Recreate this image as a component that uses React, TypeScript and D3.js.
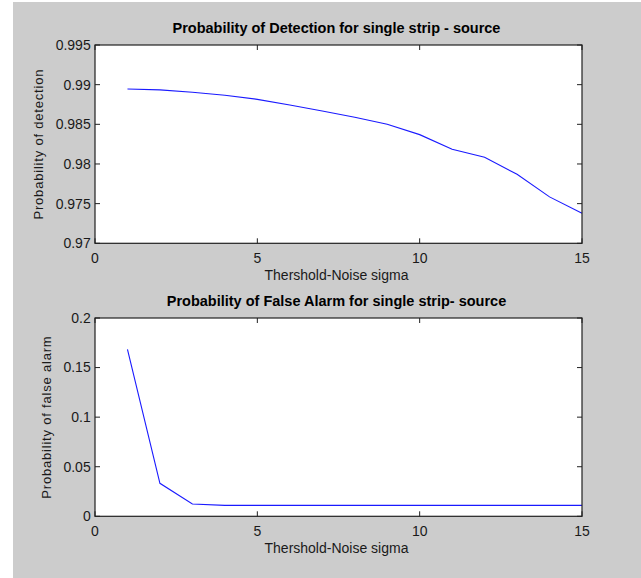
import React, { useEffect, useRef } from 'react'
import * as d3 from 'd3'

// sigma threshold steps
const sigma = [1, 2, 3, 4, 5, 6, 7, 8, 9, 10, 11, 12, 13, 14, 15]

// probability of detection
const detection = [
  0.98945, 0.98934, 0.98905, 0.98866, 0.98815, 0.98744, 0.98668, 0.98590,
  0.98502, 0.98370, 0.98185, 0.98084, 0.97870, 0.97585, 0.97378,
]

// probability of false alarm, bottom panel
const falseAlarm = [
  0.1684, 0.0333, 0.0124, 0.0110, 0.0110, 0.0110, 0.0110, 0.0110,
  0.0110, 0.0110, 0.0110, 0.0110, 0.0110, 0.0110, 0.0110,
]

const xTicks = [0, 5, 10, 15]
const detTicks = [0.97, 0.975, 0.98, 0.985, 0.99, 0.995]
const faTicks = [0, 0.05, 0.1, 0.15, 0.2]

const titles = [
  'Probability of Detection for single strip - source',
  'Probability of False Alarm for single strip- source',
]
const yLabels = ['Probability of detection', 'Probability of false alarm']
const xLabel = 'Thershold-Noise sigma'

const FONT = '"Liberation Sans", Arial, sans-serif'

function App() {
  const svgRef = useRef<SVGSVGElement>(null)

  useEffect(() => {
    const W = 641
    const H = 578
    const svg = d3.select(svgRef.current)
      .attr('width', W)
      .attr('height', H)
    svg.selectAll('*').remove()

    // figure background
    svg.append('rect')
      .attr('x', 13).attr('y', 2)
      .attr('width', W - 13).attr('height', H - 2)
      .attr('fill', '#cccccc')

    const left = 95
    const right = 582
    const panels = [
      { top: 45, values: detection, domain: [0.97, 0.995], ticks: detTicks },
      { top: 318, values: falseAlarm, domain: [0, 0.2], ticks: faTicks },
    ]
    const ph = 198.3
    const tickLen = 5

    panels.forEach((p, i) => {
      const bottom = p.top + ph
      const x = d3.scaleLinear().domain([0, 15]).range([left, right])
      const y = d3.scaleLinear().domain(p.domain).range([bottom, p.top])
      const g = svg.append('g')

      g.append('rect')
        .attr('x', left).attr('y', p.top)
        .attr('width', right - left).attr('height', ph)
        .attr('fill', '#ffffff')

      // line
      const line = d3.line<number>()
        .x((d, k) => x(sigma[k]))
        .y(d => y(d))
      g.append('path')
        .datum(p.values)
        .attr('d', line)
        .attr('fill', 'none')
        .attr('stroke', '#1a1aff')
        .attr('stroke-width', 1.1)

      // box
      g.append('rect')
        .attr('x', left).attr('y', p.top)
        .attr('width', right - left).attr('height', ph)
        .attr('fill', 'none')
        .attr('stroke', '#202020')
        .attr('stroke-width', 1.2)

      // x ticks (inward, top and bottom)
      xTicks.forEach(t => {
        const xx = x(t)
        g.append('line')
          .attr('x1', xx).attr('x2', xx)
          .attr('y1', bottom).attr('y2', bottom - tickLen)
          .attr('stroke', '#202020')
        g.append('line')
          .attr('x1', xx).attr('x2', xx)
          .attr('y1', p.top).attr('y2', p.top + tickLen)
          .attr('stroke', '#202020')
        g.append('text')
          .attr('x', xx).attr('y', bottom + 19.5)
          .attr('text-anchor', 'middle')
          .attr('font-family', FONT)
          .attr('font-size', 14)
          .attr('fill', '#1a1a1a')
          .text(String(t))
      })

      // y ticks
      const labels: SVGTextElement[] = []
      p.ticks.forEach(t => {
        const yy = y(t)
        g.append('line')
          .attr('x1', left).attr('x2', left + tickLen)
          .attr('y1', yy).attr('y2', yy)
          .attr('stroke', '#202020')
        g.append('line')
          .attr('x1', right).attr('x2', right - tickLen)
          .attr('y1', yy).attr('y2', yy)
          .attr('stroke', '#202020')
        const tx = g.append('text')
          .attr('x', left - 4.3).attr('y', yy)
          .attr('dy', '0.35em')
          .attr('text-anchor', 'end')
          .attr('font-family', FONT)
          .attr('font-size', 14)
          .attr('fill', '#1a1a1a')
          .text(String(t))
        labels.push(tx.node() as SVGTextElement)
      })
      const minX = d3.min(labels, n => n.getBBox().x) ?? left - 40

      // title
      g.append('text')
        .attr('x', (left + right) / 2 - 2).attr('y', p.top - 12)
        .attr('text-anchor', 'middle')
        .attr('font-family', FONT)
        .attr('font-size', 14.5)
        .attr('font-weight', 'bold')
        .attr('fill', '#000')
        .text(titles[i])

      // x label
      g.append('text')
        .attr('x', (left + right) / 2 - 2).attr('y', bottom + 36.5)
        .attr('text-anchor', 'middle')
        .attr('font-family', FONT)
        .attr('font-size', 14)
        .attr('fill', '#1a1a1a')
        .text(xLabel)

      // y label
      const ly = p.top + ph / 2
      const lx = minX - 12.7
      g.append('text')
        .attr('transform', `translate(${lx},${ly}) rotate(-90)`)
        .attr('text-anchor', 'middle')
        .attr('font-family', FONT)
        .attr('font-size', 13)
        .attr('letter-spacing', 0.8)
        .attr('fill', '#1a1a1a')
        .text(yLabels[i])
    })
  }, [])

  return (
    <svg ref={svgRef} style={{ position: 'absolute', left: 0, top: 0 }}></svg>
  )
}

export default App
